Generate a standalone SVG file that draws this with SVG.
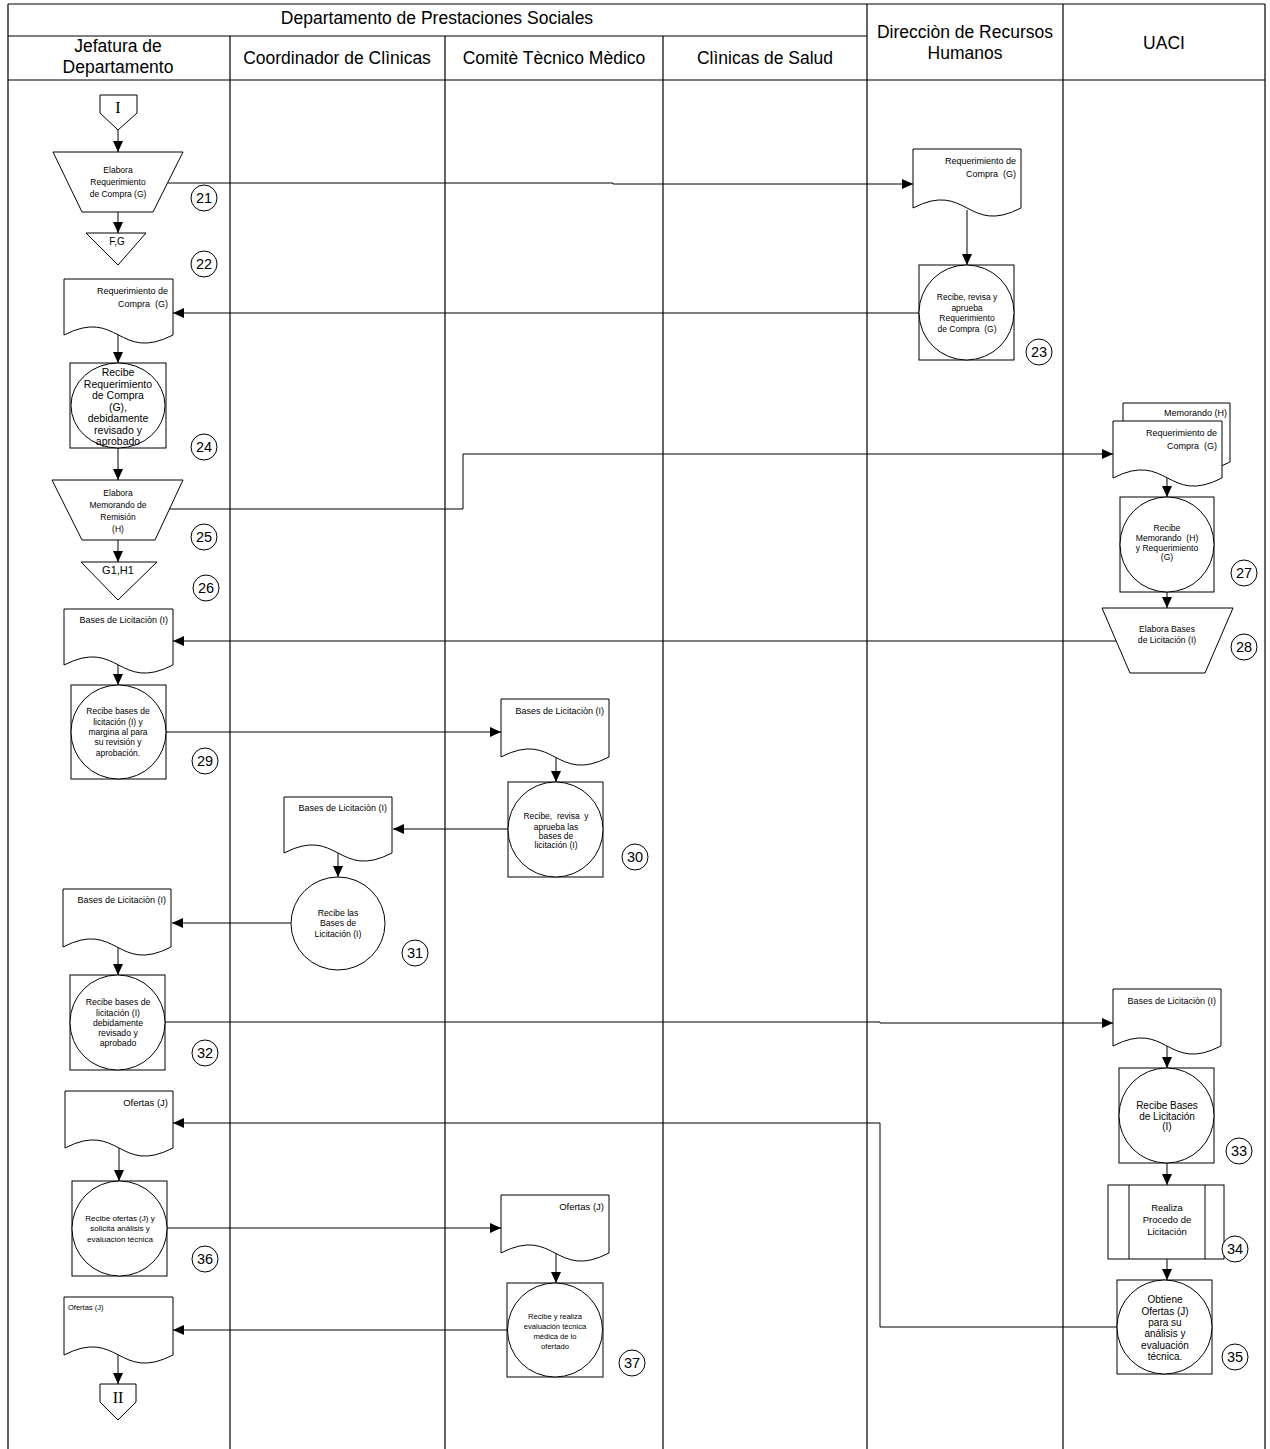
<svg xmlns="http://www.w3.org/2000/svg" width="1270" height="1449" viewBox="0 0 1270 1449">
  <style>
    .frame { stroke: #000; stroke-width: 1.2; fill: none; }
    .shape { fill: #fff; stroke: #000; stroke-width: 1; }
    .conn { fill: none; stroke: #000; stroke-width: 1; }
    text { font-family: "Liberation Sans", Arial, sans-serif; fill: #000; }
    .hd { font-size: 17.5px; text-anchor: middle; }
    .c { text-anchor: middle; }
    .r { text-anchor: end; }
    .num { font-size: 14.5px; text-anchor: middle; }
    .serif { font-family: "Liberation Serif", "Times New Roman", serif; font-size: 16px; text-anchor: middle; }
  </style>
  <defs>
    <marker id="arr" markerUnits="userSpaceOnUse" markerWidth="11" markerHeight="10" refX="11" refY="5" orient="auto">
      <path d="M0,0 L11,5 L0,10 Z" fill="#000"/>
    </marker>
  </defs>

  <rect width="1270" height="1449" fill="#fff"/>

  <!-- swimlane frame and headers -->
  <g id="lanes">
    <path class="frame" d="M8,4 H1265 M8,4 V1449 M1265,4 V1449 M8,36 H867 M8,80 H1265 M230,36 V1449 M445,36 V1449 M663,36 V1449 M867,4 V1449 M1063,4 V1449"/>
    <text class="hd" x="437" y="24">Departamento de Prestaciones Sociales</text>
    <text class="hd" x="118" y="52">Jefatura de</text>
    <text class="hd" x="118" y="73">Departamento</text>
    <text class="hd" x="337" y="64">Coordinador de Clìnicas</text>
    <text class="hd" x="554" y="64">Comitè Tècnico Mèdico</text>
    <text class="hd" x="765" y="64">Clìnicas de Salud</text>
    <text class="hd" x="965" y="38">Direcciòn de Recursos</text>
    <text class="hd" x="965" y="59">Humanos</text>
    <text class="hd" x="1164" y="49">UACI</text>
  </g>

  <!-- connectors -->
  <g id="connectors" class="conn">
    <path marker-end="url(#arr)" d="M118,130 V152"/>
    <path marker-end="url(#arr)" d="M118,212 V233"/>
    <path marker-end="url(#arr)" d="M168,183 H613 V184 H913"/>
    <path marker-end="url(#arr)" d="M967,210 V265"/>
    <path marker-end="url(#arr)" d="M920,313 H173"/>
    <path marker-end="url(#arr)" d="M118,335 V363"/>
    <path marker-end="url(#arr)" d="M118,448 V480"/>
    <path marker-end="url(#arr)" d="M118,540 V562"/>
    <path marker-end="url(#arr)" d="M169,509 H463 V454 H1113"/>
    <path marker-end="url(#arr)" d="M1167,478 V497"/>
    <path marker-end="url(#arr)" d="M1167,592 V608"/>
    <path marker-end="url(#arr)" d="M1116,641 H173"/>
    <path marker-end="url(#arr)" d="M118,665 V685"/>
    <path marker-end="url(#arr)" d="M166,732 H501"/>
    <path marker-end="url(#arr)" d="M556,757 V782"/>
    <path marker-end="url(#arr)" d="M509,829 H393"/>
    <path marker-end="url(#arr)" d="M338,853 V877"/>
    <path marker-end="url(#arr)" d="M291,923 H172"/>
    <path marker-end="url(#arr)" d="M118,947 V975"/>
    <path marker-end="url(#arr)" d="M165,1022 H880 V1023 H1113"/>
    <path marker-end="url(#arr)" d="M1167,1046 V1068"/>
    <path marker-end="url(#arr)" d="M1167,1163 V1185"/>
    <path marker-end="url(#arr)" d="M1167,1259 V1280"/>
    <path marker-end="url(#arr)" d="M1118,1327 H880 V1123 H173"/>
    <path marker-end="url(#arr)" d="M119,1148 V1181"/>
    <path marker-end="url(#arr)" d="M167,1228 H501"/>
    <path marker-end="url(#arr)" d="M556,1253 V1283"/>
    <path marker-end="url(#arr)" d="M508,1330 H173"/>
    <path marker-end="url(#arr)" d="M118,1355 V1384"/>
  </g>

  <!-- Jefatura de Departamento -->
  <g id="start-I">
    <path class="shape" d="M100,95 H137 V113 L118,130 L100,113 Z"/>
    <text class="serif" x="118" y="113">I</text>
  </g>

  <g id="step21">
    <path class="shape" d="M53,152 H183 L153,212 H82 Z"/>
    <text class="c" font-size="8.5" x="118" y="173">Elabora</text>
    <text class="c" font-size="8.5" x="118" y="185">Requerimiento</text>
    <text class="c" font-size="8.5" x="118" y="197">de Compra (G)</text>
    <circle class="shape" cx="204" cy="198" r="13"/>
    <text class="num" x="204" y="203">21</text>
  </g>

  <g id="step22">
    <path class="shape" d="M86,233 H146 L118,265 Z"/>
    <text class="c" font-size="10" x="117" y="245">F,G</text>
    <circle class="shape" cx="204" cy="264" r="13"/>
    <text class="num" x="204" y="269">22</text>
  </g>

  <g id="doc-req-jefatura">
    <path class="shape" d="M64,279 H173 V335 C118.5,363 118.5,307 64,335 Z"/>
    <text class="r" font-size="9" x="168" y="294">Requerimiento de</text>
    <text class="r" font-size="9" x="168" y="307" xml:space="preserve">Compra  (G)</text>
  </g>

  <g id="step24">
    <rect class="shape" x="70" y="363" width="96" height="85"/>
    <ellipse class="shape" cx="118" cy="405.5" rx="47" ry="42.5"/>
    <text class="c" font-size="10.5" x="118" y="376">Recibe</text>
    <text class="c" font-size="10.5" x="118" y="387.5">Requerimiento</text>
    <text class="c" font-size="10.5" x="118" y="399">de Compra</text>
    <text class="c" font-size="10.5" x="118" y="410.5">(G),</text>
    <text class="c" font-size="10.5" x="118" y="422">debidamente</text>
    <text class="c" font-size="10.5" x="118" y="433.5">revisado y</text>
    <text class="c" font-size="10.5" x="118" y="445">aprobado</text>
    <circle class="shape" cx="204" cy="447" r="13"/>
    <text class="num" x="204" y="452">24</text>
  </g>

  <g id="step25">
    <path class="shape" d="M52,480 H183 L155,540 H82 Z"/>
    <text class="c" font-size="8.5" x="118" y="496">Elabora</text>
    <text class="c" font-size="8.5" x="118" y="508">Memorando de</text>
    <text class="c" font-size="8.5" x="118" y="520">Remisión</text>
    <text class="c" font-size="8.5" x="118" y="532">(H)</text>
    <circle class="shape" cx="204" cy="537" r="13"/>
    <text class="num" x="204" y="542">25</text>
  </g>

  <g id="step26">
    <path class="shape" d="M81,562 H157 L118,600 Z"/>
    <text class="c" font-size="11" x="118" y="574">G1,H1</text>
    <circle class="shape" cx="206" cy="588" r="13"/>
    <text class="num" x="206" y="593">26</text>
  </g>

  <g id="doc-bases-jefatura">
    <path class="shape" d="M64,609 H173 V665 C118.5,693 118.5,637 64,665 Z"/>
    <text class="r" font-size="9" x="168" y="623">Bases de Licitaciòn (I)</text>
  </g>

  <g id="step29">
    <rect class="shape" x="71" y="685" width="95" height="94"/>
    <ellipse class="shape" cx="118.5" cy="732" rx="47.5" ry="47"/>
    <text class="c" font-size="8.5" x="118" y="714">Recibe bases de</text>
    <text class="c" font-size="8.5" x="118" y="725">licitación (I) y</text>
    <text class="c" font-size="8.5" x="118" y="735">margina al para</text>
    <text class="c" font-size="8.5" x="118" y="745">su revisión y</text>
    <text class="c" font-size="8.5" x="118" y="756">aprobación.</text>
    <circle class="shape" cx="205" cy="761" r="13"/>
    <text class="num" x="205" y="766">29</text>
  </g>

  <g id="doc-bases-jefatura-2">
    <path class="shape" d="M63,889 H171 V947 C117,975 117,919 63,947 Z"/>
    <text class="r" font-size="9" x="166" y="903">Bases de Licitaciòn (I)</text>
  </g>

  <g id="step32">
    <rect class="shape" x="70" y="975" width="95" height="95"/>
    <ellipse class="shape" cx="117.5" cy="1022.5" rx="47.5" ry="47.5"/>
    <text class="c" font-size="8.7" x="118" y="1005">Recibe bases de</text>
    <text class="c" font-size="8.7" x="118" y="1016">licitación (I)</text>
    <text class="c" font-size="8.7" x="118" y="1026">debidamente</text>
    <text class="c" font-size="8.7" x="118" y="1036">revisado y</text>
    <text class="c" font-size="8.7" x="118" y="1046">aprobado</text>
    <circle class="shape" cx="205" cy="1053" r="13"/>
    <text class="num" x="205" y="1058">32</text>
  </g>

  <g id="doc-ofertas-jefatura">
    <path class="shape" d="M65,1091 H173 V1148 C119,1176 119,1120 65,1148 Z"/>
    <text class="r" font-size="9.5" x="168" y="1106">Ofertas (J)</text>
  </g>

  <g id="step36">
    <rect class="shape" x="72" y="1181" width="95" height="95"/>
    <ellipse class="shape" cx="119.5" cy="1228.5" rx="47.5" ry="47.5"/>
    <text class="c" font-size="8" x="120" y="1221">Recibe ofertas (J) y</text>
    <text class="c" font-size="8" x="120" y="1231">solicita análisis y</text>
    <text class="c" font-size="8" x="120" y="1242">evaluación técnica</text>
    <circle class="shape" cx="205" cy="1259" r="13"/>
    <text class="num" x="205" y="1264">36</text>
  </g>

  <g id="doc-ofertas-jefatura-2">
    <path class="shape" d="M64,1297 H173 V1355 C118.5,1383 118.5,1327 64,1355 Z"/>
    <text font-size="7.5" x="68" y="1310">Ofertas (J)</text>
  </g>

  <g id="end-II">
    <path class="shape" d="M100,1384 H136 V1402 L118,1420 L100,1402 Z"/>
    <text class="serif" x="118" y="1403">II</text>
  </g>

  <!-- Comité Técnico Médico -->
  <g id="doc-bases-comite">
    <path class="shape" d="M501,699 H609 V757 C555,785 555,729 501,757 Z"/>
    <text class="r" font-size="9" x="604" y="714">Bases de Licitaciòn (I)</text>
  </g>

  <g id="step30">
    <rect class="shape" x="508" y="782" width="95" height="95"/>
    <ellipse class="shape" cx="555.5" cy="829.5" rx="47.5" ry="47.5"/>
    <text class="c" font-size="8.5" x="556" y="819" xml:space="preserve">Recibe,  revisa  y</text>
    <text class="c" font-size="8.5" x="556" y="830">aprueba las</text>
    <text class="c" font-size="8.5" x="556" y="839">bases de</text>
    <text class="c" font-size="8.5" x="556" y="848">licitación (I)</text>
    <circle class="shape" cx="635" cy="857" r="13"/>
    <text class="num" x="635" y="862">30</text>
  </g>

  <g id="doc-ofertas-comite">
    <path class="shape" d="M501,1195 H609 V1253 C555,1281 555,1225 501,1253 Z"/>
    <text class="r" font-size="9.5" x="604" y="1210">Ofertas (J)</text>
  </g>

  <g id="step37">
    <rect class="shape" x="507" y="1283" width="96" height="94"/>
    <ellipse class="shape" cx="555" cy="1330" rx="47.5" ry="47"/>
    <text class="c" font-size="7.6" x="555" y="1319">Recibe y realiza</text>
    <text class="c" font-size="7.6" x="555" y="1329">evaluación técnica</text>
    <text class="c" font-size="7.6" x="555" y="1339">médica de lo</text>
    <text class="c" font-size="7.6" x="555" y="1349">ofertado</text>
    <circle class="shape" cx="632" cy="1363" r="13"/>
    <text class="num" x="632" y="1368">37</text>
  </g>

  <!-- Coordinador de Clínicas -->
  <g id="doc-bases-coordinador">
    <path class="shape" d="M284,797 H392 V853 C338,881 338,825 284,853 Z"/>
    <text class="r" font-size="9" x="387" y="811">Bases de Licitaciòn (I)</text>
  </g>

  <g id="step31">
    <ellipse class="shape" cx="338" cy="923.5" rx="47" ry="46.5"/>
    <text class="c" font-size="8.7" x="338" y="916">Recibe las</text>
    <text class="c" font-size="8.7" x="338" y="926">Bases de</text>
    <text class="c" font-size="8.7" x="338" y="937">Licitación (I)</text>
    <circle class="shape" cx="415" cy="953" r="13"/>
    <text class="num" x="415" y="958">31</text>
  </g>

  <!-- Dirección de Recursos Humanos -->
  <g id="doc-req-rrhh">
    <path class="shape" d="M913,149 H1021 V208 C967,236 967,180 913,208 Z"/>
    <text class="r" font-size="9" x="1016" y="164">Requerimiento de</text>
    <text class="r" font-size="9" x="1016" y="177" xml:space="preserve">Compra  (G)</text>
  </g>

  <g id="step23">
    <rect class="shape" x="919" y="265" width="95" height="95"/>
    <ellipse class="shape" cx="966.5" cy="312.5" rx="47.5" ry="47.5"/>
    <text class="c" font-size="8.5" x="967" y="300">Recibe, revisa y</text>
    <text class="c" font-size="8.5" x="967" y="311">aprueba</text>
    <text class="c" font-size="8.5" x="967" y="321">Requerimiento</text>
    <text class="c" font-size="8.5" x="967" y="332" xml:space="preserve">de Compra  (G)</text>
    <circle class="shape" cx="1039" cy="352" r="13"/>
    <text class="num" x="1039" y="357">23</text>
  </g>

  <!-- UACI -->
  <g id="docs-memo-req-uaci">
    <path class="shape" d="M1123,403 H1230 V462 C1176.5,490 1176.5,434 1123,462 Z"/>
    <text class="r" font-size="9" x="1227" y="416">Memorando (H)</text>
    <path class="shape" d="M1113,421 H1222 V478 C1167.5,506 1167.5,450 1113,478 Z"/>
    <text class="r" font-size="9" x="1217" y="436">Requerimiento de</text>
    <text class="r" font-size="9" x="1217" y="449" xml:space="preserve">Compra  (G)</text>
  </g>

  <g id="step27">
    <rect class="shape" x="1120" y="497" width="94" height="95"/>
    <ellipse class="shape" cx="1167" cy="544.5" rx="47" ry="47.5"/>
    <text class="c" font-size="8.6" x="1167" y="531">Recibe</text>
    <text class="c" font-size="8.6" x="1167" y="541" xml:space="preserve">Memorando  (H)</text>
    <text class="c" font-size="8.6" x="1167" y="550.5">y Requerimiento</text>
    <text class="c" font-size="8.6" x="1167" y="560">(G)</text>
    <circle class="shape" cx="1244" cy="573" r="13"/>
    <text class="num" x="1244" y="578">27</text>
  </g>

  <g id="step28">
    <path class="shape" d="M1102,608 H1233 L1205,673 H1130 Z"/>
    <text class="c" font-size="8.6" x="1167" y="632">Elabora Bases</text>
    <text class="c" font-size="8.6" x="1167" y="643">de Licitación (I)</text>
    <circle class="shape" cx="1244" cy="647" r="13"/>
    <text class="num" x="1244" y="652">28</text>
  </g>

  <g id="doc-bases-uaci">
    <path class="shape" d="M1113,989 H1221 V1046 C1167,1074 1167,1018 1113,1046 Z"/>
    <text class="r" font-size="9" x="1216" y="1004">Bases de Licitaciòn (I)</text>
  </g>

  <g id="step33">
    <rect class="shape" x="1119" y="1068" width="95" height="95"/>
    <ellipse class="shape" cx="1166.5" cy="1115.5" rx="47.5" ry="47.5"/>
    <text class="c" font-size="10" x="1167" y="1109">Recibe Bases</text>
    <text class="c" font-size="10" x="1167" y="1120">de Licitación</text>
    <text class="c" font-size="10" x="1167" y="1130">(I)</text>
    <circle class="shape" cx="1239" cy="1151" r="13"/>
    <text class="num" x="1239" y="1156">33</text>
  </g>

  <g id="step34">
    <rect class="shape" x="1108" y="1185" width="116" height="74"/>
    <path class="conn" d="M1129,1185 V1259 M1205,1185 V1259"/>
    <text class="c" font-size="9.5" x="1167" y="1211">Realiza</text>
    <text class="c" font-size="9.5" x="1167" y="1223">Procedo de</text>
    <text class="c" font-size="9.5" x="1167" y="1235">Licitación</text>
    <circle class="shape" cx="1235" cy="1249" r="13"/>
    <text class="num" x="1235" y="1254">34</text>
  </g>

  <g id="step35">
    <rect class="shape" x="1117" y="1280" width="95" height="94"/>
    <ellipse class="shape" cx="1164.5" cy="1327" rx="47.5" ry="47"/>
    <text class="c" font-size="10" x="1165" y="1303">Obtiene</text>
    <text class="c" font-size="10" x="1165" y="1315">Ofertas (J)</text>
    <text class="c" font-size="10" x="1165" y="1326">para su</text>
    <text class="c" font-size="10" x="1165" y="1337">análisis y</text>
    <text class="c" font-size="10" x="1165" y="1349">evaluación</text>
    <text class="c" font-size="10" x="1165" y="1360">técnica.</text>
    <circle class="shape" cx="1235" cy="1357" r="13"/>
    <text class="num" x="1235" y="1362">35</text>
  </g>
</svg>
